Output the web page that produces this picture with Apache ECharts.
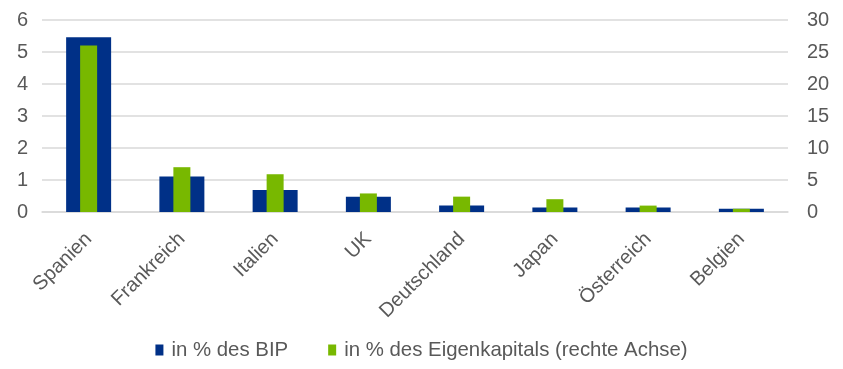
<!DOCTYPE html>
<html>
<head>
<meta charset="utf-8">
<script src="https://cdn.jsdelivr.net/npm/echarts@6/dist/echarts.min.js"></script>
<style>html,body{margin:0;padding:0;background:#fff;}#c{width:843px;height:369px;}</style>
</head>
<body>
<div id="c"></div>
<script>
const categories = ['Spanien','Frankreich','Italien','UK','Deutschland','Japan','Österreich','Belgien'];
const bipValues = [5.46, 1.11, 0.69, 0.48, 0.2, 0.14, 0.14, 0.1];
const eigenkapitalValues = [26.0, 7.0, 5.9, 2.9, 2.4, 2.0, 1.0, 0.5];
const leftTicks = [0, 1, 2, 3, 4, 5, 6];
const rightTicks = [0, 5, 10, 15, 20, 25, 30];
const seriesNames = ['in % des BIP', 'in % des Eigenkapitals (rechte Achse)'];

const font = 'Liberation Sans, Arial, sans-serif';
const txt = '#595959';
const chart = echarts.init(document.getElementById('c'));
chart.setOption({
  animation: false,
  textStyle: { fontFamily: font },
  grid: { left: 42, right: 55, top: 20, bottom: 157 },
  legend: {
    data: seriesNames,
    bottom: 4,
    left: 'center',
    itemWidth: 8,
    itemHeight: 11,
    itemGap: 40,
    icon: 'rect',
    textStyle: { fontSize: 20.4, color: txt, fontFamily: font, padding: [0, 0, 0, 3] }
  },
  xAxis: [
    {
      type: 'category', data: categories,
      axisLine: { show: true, lineStyle: { color: '#D9D9D9', width: 1.5 } },
      axisTick: { show: false },
      axisLabel: { rotate: 45, fontSize: 20, color: txt, margin: 24, interval: 0, fontFamily: font }
    },
    {
      type: 'category', data: categories, show: false
    }
  ],
  yAxis: [
    {
      type: 'value', min: 0, max: 6, interval: 1,
      axisLine: { show: false }, axisTick: { show: false },
      splitLine: { lineStyle: { color: '#D9D9D9', width: 1.5 } },
      axisLabel: { fontSize: 20, color: txt, margin: 14, fontFamily: font,
        formatter: v => leftTicks.includes(v) ? String(v) : '' }
    },
    {
      type: 'value', min: 0, max: 30, interval: 5, position: 'right',
      axisLine: { show: false }, axisTick: { show: false },
      splitLine: { show: false },
      axisLabel: { fontSize: 20, color: txt, margin: 19, fontFamily: font,
        formatter: v => rightTicks.includes(v) ? String(v) : '' }
    }
  ],
  series: [
    {
      name: seriesNames[0], type: 'bar', data: bipValues,
      xAxisIndex: 0, yAxisIndex: 0, barWidth: 45,
      itemStyle: { color: '#003087' }
    },
    {
      name: seriesNames[1], type: 'bar', data: eigenkapitalValues,
      xAxisIndex: 1, yAxisIndex: 1, barWidth: 17, z: 3,
      itemStyle: { color: '#78B800' }
    }
  ]
});
</script>
</body>
</html>
